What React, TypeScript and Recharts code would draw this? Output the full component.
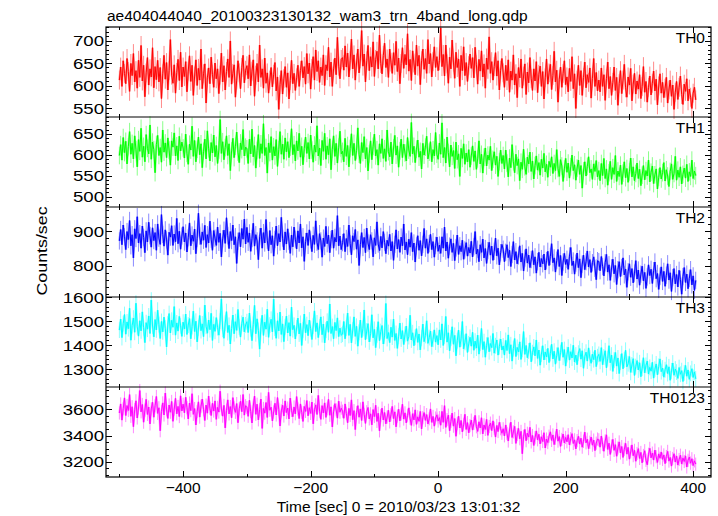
import { ErrorBar, Line, LineChart, XAxis, YAxis } from 'recharts'

// light curve bins: first bin time and bin width (sec)
const T0 = -500
const DT = 2

const TH0 = [
  612, 641, 598, 655, 627, 604, 660, 631, 587, 649, 622, 671, 608, 633, 594, 656, 618, 689, 610, 645, 575, 628, 662, 601, 637,
  619, 684, 595, 642, 613, 656, 608, 640, 571, 626, 667, 614, 651, 590, 633, 702, 623, 605, 646, 583, 629, 658, 611, 674, 597,
  641, 620, 653, 586, 632, 666, 609, 645, 578, 621, 657, 600, 638, 612, 681, 593, 626, 648, 561, 617, 639, 604, 663, 625, 596,
  650, 615, 637, 582, 623, 672, 608, 644, 590, 631, 659, 618, 699, 603, 627, 646, 574, 612, 655, 628, 593, 640, 667, 606, 634,
  644, 615, 668, 599, 632, 657, 576, 623, 649, 608, 690, 618, 637, 594, 661, 605, 628, 583, 612, 640, 597, 625, 651, 588, 619,
  547, 602, 633, 581, 615, 642, 596, 628, 570, 611, 656, 604, 627, 589, 617, 645, 598, 633, 655, 617, 642, 603, 671, 626, 650,
  592, 638, 664, 612, 679, 631, 655, 607, 641, 622, 668, 600, 646, 633, 685, 619, 652, 598, 637, 661, 624, 707, 643, 615, 658,
  662, 634, 688, 641, 672, 619, 655, 703, 637, 668, 612, 650, 681, 628, 659, 722, 643, 670, 608, 655, 689, 633, 664, 641, 697,
  620, 658, 676, 637, 712, 649, 626, 667, 694, 640, 659, 618, 681, 652, 627, 673, 645, 698, 631, 661, 604, 649, 684, 638, 669,
  646, 715, 632, 658, 611, 677, 650, 624, 690, 643, 667, 602, 655, 681, 636, 660, 627, 702, 648, 671, 619, 653, 686, 640, 664,
  633,
  655, 728, 642, 669, 621, 690, 648, 605, 663, 637, 701, 652, 616, 674, 640, 659, 598, 667, 633, 686, 622, 651, 609, 644, 670,
  638, 662, 617, 685, 646, 603, 658, 632, 677, 619, 648, 594, 661, 636, 708, 627, 653, 612, 642, 673, 621, 655, 590, 634, 660,
  628, 596, 645, 611, 657, 585, 632, 612, 668, 601, 626, 573, 640, 617, 659, 594, 621, 648, 580, 630, 606, 662, 615, 589, 637,
  610, 653, 584, 625, 643, 598, 631, 570, 617, 659, 603, 628, 647, 591, 622, 676, 608, 634, 563, 614, 641, 596, 627, 655, 602,
  619, 586, 638, 609, 664, 593, 626, 549, 612, 645, 600, 633, 578, 618, 652, 595, 624, 607, 639, 572, 616, 660, 598, 629, 588,
  612, 586, 639, 598, 624, 567, 615, 652, 593, 620, 578, 607, 641, 589, 618, 556, 604, 633, 582, 612, 647, 595, 574, 619, 601,
  638, 566, 603, 627, 581, 610, 592, 624, 571, 598, 642, 585, 609, 563, 596, 621, 579, 605, 632, 588, 614, 557, 599, 626, 583,
  607, 573, 594, 618, 561, 590, 612, 576, 601, 547, 585, 609, 569, 596, 621, 580, 558, 603, 587, 615, 566, 592, 574, 549, 583,
  596, 568,
]

const TH1 = [
  598, 624, 587, 641, 605, 632, 578, 619, 655, 601, 627, 590, 645, 612, 571, 636, 608, 663, 594, 620, 583, 648, 615, 602, 671,
  589, 630, 612, 557, 624, 646, 598, 617, 582, 659, 606, 628, 593, 640, 611, 575, 633, 618, 652, 597, 621, 586, 644, 609, 630,
  616, 592, 649, 603, 577, 625, 611, 668, 596, 634, 583, 613, 642, 600, 626, 569, 608, 637, 590, 657, 614, 585, 629, 604, 647,
  595, 622, 579, 611, 684, 603, 631, 588, 617, 645, 598, 626, 562, 609, 639, 593, 620, 654, 606, 581, 628, 612, 660, 597, 618,
  614, 579, 637, 602, 661, 595, 622, 568, 610, 648, 591, 626, 603, 674, 598, 617, 556, 628, 605, 643, 587, 619, 597, 636, 572,
  612, 655, 601, 625, 589, 640, 607, 631, 593, 618, 662, 600, 624, 585, 633, 609, 651, 594, 620, 576, 615, 642, 603, 629, 590,
  647, 611, 582, 623, 606, 669, 597, 616, 574, 634, 608, 651, 589, 621, 600, 638, 564, 613, 645, 596, 627, 580, 618, 656, 602,
  608, 583, 639, 596, 622, 571, 615, 650, 598, 627, 586, 610, 664, 601, 579, 629, 605, 643, 590, 617, 561, 602, 633, 588, 620,
  649, 597, 612, 575, 626, 603, 638, 591, 614, 584, 659, 607, 595, 630, 578, 616, 646, 599, 621, 570, 609, 637, 593, 625, 604,
  585, 641, 611, 596, 677, 602, 620, 581, 613, 635, 594, 608, 566, 627, 599, 618, 644, 590, 606, 631, 583, 612, 597, 653, 601,
  589,
  628, 601, 676, 593, 617, 580, 642, 605, 571, 623, 596, 610, 567, 630, 588, 602, 548, 615, 591, 626, 577, 604, 583, 612, 570,
  597, 621, 584, 609, 565, 590, 633, 578, 601, 556, 594, 616, 573, 599, 587, 620, 562, 589, 607, 575, 596, 548, 583, 611, 579,
  598, 566, 611, 580, 547, 592, 569, 624, 583, 557, 601, 574, 590, 538, 582, 565, 613, 571, 553, 594, 578, 606, 560, 585, 542,
  574, 597, 563, 581, 551, 589, 568, 603, 559, 577, 546, 584, 570, 595, 555, 579, 562, 612, 567, 548, 588, 573, 536, 566, 591,
  558, 580, 544, 571, 599, 562, 576, 539, 568, 587, 553, 574, 520, 561, 583, 549, 572, 595, 557, 566, 541, 578, 560, 586, 547,
  562, 538, 579, 550, 591, 543, 566, 527, 557, 584, 541, 569, 553, 598, 536, 561, 548, 575, 529, 556, 583, 545, 567, 534, 559,
  592, 547, 571, 538, 555, 580, 543, 565, 526, 551, 574, 540, 562, 549, 587, 535, 558, 573, 531, 552, 566, 518, 546, 569, 542,
  557, 581, 537, 564, 549, 524, 560, 578, 541, 555, 596, 539, 563, 546, 571, 530, 553, 568, 544, 577, 536, 559, 548, 587, 543,
  561, 550,
]

const TH2 = [
  872, 905, 861, 918, 884, 847, 899, 876, 931, 858, 890, 823, 907, 879, 942, 866, 893, 851, 915, 882, 838, 901, 869, 926, 887,
  854, 910, 873, 896, 845, 921, 880, 862, 948, 891, 857, 904, 875, 831, 897, 883, 916, 859, 892, 870, 937, 864, 900, 848, 886,
  913, 869, 895, 840, 881, 924, 858, 889, 871, 906, 835, 879, 952, 886, 862, 898, 874, 917, 853, 890, 866, 929, 877, 845, 902,
  880, 859, 912, 868, 894, 826, 878, 903, 865, 939, 887, 850, 899, 873, 918, 861, 884, 807, 871, 896, 855, 908, 877, 935, 863,
  911, 868, 895, 842, 879, 923, 857, 890, 872, 818, 884, 909, 851, 896, 866, 934, 874, 843, 902, 861, 887, 828, 876, 915, 858,
  893, 869, 940, 880, 846, 898, 863, 907, 871, 836, 889, 855, 912, 877, 849, 901, 866, 921, 852, 884, 813, 870, 895, 859, 904,
  875, 841, 888, 862, 930, 868, 847, 893, 872, 825, 880, 856, 914, 864, 889, 838, 876, 903, 851, 882, 869, 945, 858, 886, 847,
  867, 893, 841, 879, 856, 918, 864, 832, 887, 870, 905, 848, 875, 801, 861, 896, 853, 882, 838, 909, 866, 847, 890, 872, 826,
  881, 859, 927, 863, 844, 885, 852, 899, 868, 835, 874, 857, 891, 843, 870, 816, 862, 904, 849, 876, 839, 883, 858, 921, 846,
  869, 832, 877, 854, 896, 841, 866, 811, 858, 887, 845, 873, 829, 862, 908, 851, 878, 836, 864, 891, 847, 870, 825, 859, 883,
  842,
  860, 836, 884, 851, 912, 843, 869, 822, 857, 878, 839, 865, 815, 852, 889, 833, 858, 841, 874, 819, 846, 867, 828, 853, 837,
  871, 826, 855, 899, 834, 848, 812, 861, 839, 877, 823, 850, 807, 844, 868, 831, 857, 816, 842, 880, 829, 851, 803, 838, 862,
  848, 812, 839, 861, 824, 845, 798, 833, 870, 817, 841, 806, 829, 858, 811, 836, 785, 822, 849, 808, 831, 795, 818, 844, 803,
  826, 779, 812, 839, 797, 821, 806, 834, 788, 815, 842, 801, 827, 864, 809, 823, 782, 816, 847, 798, 830, 772, 811, 836, 804,
  819, 790, 828, 853, 801, 814, 776, 808, 837, 795, 820, 766, 805, 831, 789, 812, 843, 797, 818, 781, 809, 826, 793, 760, 815,
  812, 786, 827, 798, 771, 809, 833, 782, 803, 758, 794, 819, 777, 801, 746, 789, 812, 769, 795, 823, 774, 791, 738, 783, 806,
  767, 792, 751, 779, 815, 762, 788, 744, 776, 799, 757, 781, 735, 768, 803, 772, 790, 749, 786, 811, 763, 778, 732, 770, 797,
  755, 784, 741, 773, 806, 759, 780, 726, 766, 792, 748, 775, 739, 787, 761, 718, 769, 795, 752, 776, 734, 764, 789, 745, 771,
  729, 758,
]

const TH3 = [
  1462, 1508, 1431, 1489, 1527, 1445, 1496, 1468, 1553, 1420, 1481, 1512, 1453, 1574, 1476, 1437, 1501, 1459, 1538, 1472, 1410, 1493, 1466, 1521, 1448,
  1587, 1479, 1434, 1506, 1463, 1545, 1485, 1427, 1498, 1455, 1516, 1470, 1392, 1487, 1531, 1450, 1503, 1474, 1560, 1441, 1492, 1458, 1519, 1480, 1436,
  1495, 1467, 1529, 1444, 1483, 1510, 1426, 1477, 1541, 1456, 1499, 1413, 1471, 1523, 1460, 1488, 1435, 1566, 1478, 1449, 1504, 1464, 1532, 1419, 1486,
  1457, 1514, 1473, 1441, 1500, 1592, 1466, 1428, 1491, 1539, 1452, 1482, 1404, 1469, 1525, 1447, 1497, 1461, 1548, 1475, 1433, 1490, 1516, 1455, 1484,
  1497, 1452, 1533, 1468, 1418, 1486, 1565, 1447, 1509, 1461, 1383, 1478, 1524, 1440, 1495, 1466, 1549, 1432, 1483, 1507, 1455, 1591, 1470, 1428, 1501,
  1459, 1537, 1444, 1488, 1414, 1476, 1520, 1450, 1493, 1437, 1558, 1464, 1482, 1425, 1471, 1512, 1446, 1490, 1398, 1463, 1529, 1451, 1485, 1439, 1504,
  1468, 1423, 1479, 1542, 1456, 1492, 1431, 1475, 1517, 1443, 1487, 1409, 1462, 1499, 1453, 1571, 1448, 1477, 1426, 1494, 1460, 1513, 1435, 1470, 1441,
  1445, 1498, 1426, 1471, 1533, 1440, 1486, 1409, 1462, 1517, 1436, 1478, 1395, 1453, 1504, 1431, 1469, 1546, 1422, 1458, 1489, 1413, 1447, 1526, 1430,
  1465, 1389, 1442, 1497, 1418, 1456, 1481, 1404, 1438, 1573, 1427, 1452, 1410, 1474, 1433, 1508, 1419, 1448, 1386, 1437, 1491, 1425, 1460, 1402, 1444,
  1479, 1416, 1435, 1524, 1421, 1451, 1397, 1432, 1468, 1411, 1446, 1380, 1429, 1487, 1414, 1440, 1501, 1407, 1431, 1458, 1393, 1424, 1463, 1412, 1439,
  1401,
  1463, 1421, 1488, 1398, 1437, 1519, 1412, 1451, 1376, 1429, 1476, 1403, 1440, 1355, 1418, 1462, 1391, 1426, 1498, 1384, 1411, 1447, 1369, 1405, 1432,
  1395, 1453, 1378, 1416, 1387, 1441, 1362, 1408, 1469, 1381, 1414, 1349, 1399, 1431, 1372, 1406, 1389, 1448, 1366, 1397, 1421, 1358, 1393, 1425, 1379,
  1396, 1358, 1419, 1377, 1442, 1364, 1401, 1333, 1385, 1427, 1352, 1390, 1371, 1413, 1340, 1382, 1456, 1361, 1398, 1347, 1375, 1409, 1330, 1368, 1392,
  1355, 1421, 1344, 1379, 1316, 1362, 1397, 1338, 1371, 1350, 1386, 1327, 1365, 1403, 1342, 1374, 1320, 1357, 1389, 1335, 1368, 1411, 1349, 1381, 1312,
  1360, 1391, 1337, 1372, 1346, 1399, 1329, 1358, 1318, 1366, 1385, 1341, 1376, 1303, 1352, 1370, 1333, 1388, 1345, 1324, 1362, 1339, 1378, 1310, 1351,
  1361, 1332, 1389, 1318, 1350, 1376, 1305, 1343, 1397, 1326, 1358, 1290, 1337, 1369, 1312, 1346, 1281, 1329, 1364, 1301, 1338, 1378, 1309, 1322, 1352,
  1286, 1317, 1343, 1273, 1310, 1335, 1296, 1326, 1268, 1303, 1347, 1284, 1315, 1333, 1279, 1307, 1291, 1328, 1262, 1299, 1321, 1276, 1311, 1342, 1289,
  1304, 1266, 1297, 1318, 1281, 1309, 1253, 1292, 1325, 1274, 1300, 1287, 1261, 1306, 1278, 1293, 1248, 1284, 1315, 1270, 1296, 1257, 1282, 1301, 1265,
  1288, 1259,
]

const TH0123 = [
  3572, 3641, 3518, 3605, 3687, 3553, 3629, 3591, 3712, 3547, 3620, 3468, 3598, 3665, 3534, 3610, 3743, 3581, 3637, 3502, 3594, 3676, 3561, 3618, 3489,
  3603, 3654, 3540, 3627, 3698, 3569, 3612, 3437, 3585, 3649, 3557, 3724, 3596, 3531, 3633, 3578, 3660, 3509, 3601, 3684, 3566, 3622, 3545, 3703, 3588,
  3639, 3574, 3692, 3613, 3527, 3648, 3590, 3719, 3562, 3606, 3481, 3583, 3657, 3541, 3624, 3678, 3597, 3515, 3632, 3571, 3701, 3608, 3553, 3646, 3587,
  3664, 3524, 3615, 3579, 3738, 3602, 3548, 3630, 3459, 3593, 3672, 3565, 3621, 3536, 3689, 3611, 3577, 3644, 3498, 3604, 3661, 3582, 3713, 3556, 3628,
  3614, 3547, 3669, 3583, 3496, 3625, 3701, 3562, 3639, 3520, 3598, 3678, 3455, 3607, 3571, 3652, 3538, 3729, 3593, 3616, 3512, 3580, 3646, 3557, 3690,
  3601, 3473, 3588, 3631, 3549, 3664, 3575, 3610, 3527, 3685, 3592, 3544, 3618, 3566, 3697, 3603, 3530, 3641, 3577, 3508, 3622, 3584, 3667, 3551, 3612,
  3569, 3655, 3490, 3597, 3634, 3561, 3706, 3586, 3524, 3628, 3573, 3649, 3539, 3604, 3676, 3555, 3619, 3466, 3581, 3643, 3596, 3533, 3662, 3578, 3609,
  3586, 3532, 3641, 3569, 3498, 3607, 3553, 3672, 3521, 3590, 3446, 3574, 3628, 3540, 3603, 3515, 3657, 3561, 3493, 3582, 3614, 3527, 3566, 3482, 3598,
  3545, 3631, 3508, 3570, 3436, 3552, 3609, 3519, 3576, 3490, 3541, 3593, 3504, 3559, 3622, 3530, 3581, 3467, 3548, 3601, 3512, 3564, 3639, 3526, 3573,
  3497, 3554, 3611, 3532, 3478, 3567, 3520, 3596, 3486, 3543, 3509, 3584, 3451, 3537, 3575, 3516, 3560, 3489, 3528, 3603, 3501, 3546, 3472, 3534, 3558,
  3511,
  3537, 3479, 3584, 3501, 3628, 3463, 3522, 3556, 3437, 3508, 3571, 3472, 3530, 3395, 3491, 3548, 3458, 3515, 3429, 3486, 3562, 3447, 3499, 3421, 3476,
  3518, 3442, 3493, 3554, 3467, 3432, 3505, 3459, 3536, 3413, 3481, 3447, 3523, 3402, 3470, 3495, 3438, 3512, 3456, 3389, 3477, 3431, 3501, 3452, 3418,
  3452, 3398, 3481, 3417, 3359, 3443, 3502, 3386, 3428, 3470, 3341, 3409, 3455, 3376, 3432, 3262, 3395, 3447, 3361, 3418, 3389, 3463, 3352, 3401, 3325,
  3384, 3436, 3368, 3410, 3337, 3391, 3355, 3422, 3306, 3374, 3347, 3396, 3429, 3363, 3405, 3332, 3381, 3449, 3358, 3393, 3318, 3371, 3412, 3344, 3386,
  3353, 3407, 3329, 3377, 3415, 3340, 3368, 3299, 3362, 3395, 3336, 3380, 3312, 3357, 3426, 3345, 3373, 3301, 3350, 3389, 3327, 3366, 3286, 3343, 3374,
  3368, 3312, 3397, 3334, 3281, 3359, 3406, 3295, 3342, 3257, 3320, 3371, 3288, 3331, 3243, 3305, 3352, 3268, 3317, 3234, 3296, 3341, 3259, 3310, 3221,
  3276, 3329, 3247, 3288, 3205, 3264, 3301, 3226, 3272, 3193, 3249, 3285, 3212, 3178, 3258, 3303, 3231, 3267, 3214, 3290, 3239, 3196, 3261, 3228, 3275,
  3219, 3253, 3187, 3241, 3280, 3206, 3234, 3168, 3226, 3262, 3199, 3245, 3176, 3218, 3251, 3184, 3229, 3203, 3246, 3161, 3212, 3237, 3190, 3224, 3172,
  3208, 3183,
]

// typical 1-sigma error bar of each band (counts/sec)
const ERRORS = [21, 21, 25, 33, 50]

const X_DOMAIN = [-521, 428]
const X_TICKS = [-500, -400, -300, -200, -100, 0, 100, 200, 300, 400]
const X_LABELS = [-400, -200, 0, 200, 400]

const TITLE = 'ae404044040_20100323130132_wam3_trn_4band_long.qdp'
const X_TITLE = 'Time [sec] 0 = 2010/03/23 13:01:32'
const Y_TITLE = 'Counts/sec'

const rows = TH0.map((v, i) => ({
  t: T0 + i * DT,
  TH0: v,
  TH1: TH1[i],
  TH2: TH2[i],
  TH3: TH3[i],
  TH0123: TH0123[i],
  errTH0: ERRORS[0],
  errTH1: ERRORS[1],
  errTH2: ERRORS[2],
  errTH3: ERRORS[3],
  errTH0123: ERRORS[4],
}))

const panels = [
  { key: 'TH0', domain: [530, 730], majors: [550, 600, 650, 700], minor: 10, color: '#ff0000', light: '#ff8a8a' },
  { key: 'TH1', domain: [475, 690], majors: [500, 550, 600, 650], minor: 10, color: '#00ff00', light: '#8aff8a' },
  { key: 'TH2', domain: [710, 970], majors: [800, 900], minor: 20, color: '#0000ff', light: '#8a8aff' },
  { key: 'TH3', domain: [1225, 1600], majors: [1300, 1400, 1500, 1600], minor: 20, color: '#00ffff', light: '#8affff' },
  { key: 'TH0123', domain: [3085, 3770], majors: [3200, 3400, 3600], minor: 50, color: '#ff00ff', light: '#ff8aff' },
]

const FONT = '"Liberation Sans", Arial, Helvetica, sans-serif'
const PL = 106
const PR = 711
const TOP0 = 27
const PH = 90
const M_TOP = 10

const fmt = (v: number) => (v < 0 ? `\u2212${-v}` : `${v}`)
const crisp = (v: number) => Math.round(v) + 0.5

function range(lo: number, hi: number, step: number) {
  const out: number[] = []
  for (let v = Math.ceil(lo / step) * step; v <= hi; v += step) out.push(v)
  return out
}

const yTick = (p: (typeof panels)[number]) => (props: any) => {
  const { y, payload } = props
  const v = payload.value
  const major = p.majors.includes(v)
  const len = major ? 6 : 3
  const yy = crisp(y)
  return (
    <g>
      <path d={`M${PL},${yy}h${len}M${PR - len},${yy}h${len}`} stroke="#000" strokeWidth={1} fill="none" />
      {major && (
        <text
          transform={`translate(${PL - 2},${y + 5.5}) scale(1.2,1)`}
          textAnchor="end"
          fontSize={15.5}
          fontFamily={FONT}
          fill="#000"
        >
          {fmt(v)}
        </text>
      )}
    </g>
  )
}

const xTick = (bottom: boolean) => (props: any) => {
  const { x, payload } = props
  const v = payload.value
  const major = X_LABELS.includes(v)
  const len = major ? 6 : 3
  const xx = crisp(x)
  return (
    <g>
      <path d={`M${xx},${M_TOP}v${len}M${xx},${M_TOP + PH - len}v${len}`} stroke="#000" strokeWidth={1} fill="none" />
      {bottom && major && (
        <text x={x} y={M_TOP + PH + 16} textAnchor="middle" fontSize={15.5} fontFamily={FONT} fill="#000">
          {fmt(v)}
        </text>
      )}
    </g>
  )
}

export default function App() {
  return (
    <div style={{ position: 'absolute', left: 0, top: 0, width: 718, height: 516, background: '#fff' }}>
      {panels.map((p, i) => {
        const last = i === panels.length - 1
        return (
          <div key={p.key} style={{ position: 'absolute', left: 0, top: TOP0 + i * PH - M_TOP }}>
            <LineChart
              width={718}
              height={last ? 130 : 110}
              data={rows}
              margin={{ top: M_TOP, right: 718 - PR, bottom: 0, left: PL - 50 }}
            >
              <XAxis
                dataKey="t"
                type="number"
                domain={X_DOMAIN}
                ticks={X_TICKS}
                interval={0}
                tick={xTick(last)}
                tickLine={false}
                axisLine={false}
                height={last ? 30 : 10}
              />
              <YAxis
                type="number"
                domain={p.domain}
                ticks={range(p.domain[0], p.domain[1], p.minor)}
                interval={0}
                tick={yTick(p)}
                tickLine={false}
                axisLine={false}
                width={50}
                allowDataOverflow
              />
              <Line
                key="err"
                dataKey={p.key}
                stroke={p.light}
                strokeWidth={2}
                dot={false}
                isAnimationActive={false}
              >
                <ErrorBar dataKey={`err${p.key}`} width={0} stroke={p.light} strokeWidth={1} direction="y" />
              </Line>
              <Line
                key="val"
                dataKey={p.key}
                stroke={p.color}
                strokeWidth={1}
                dot={false}
                isAnimationActive={false}
              />
            </LineChart>
          </div>
        )
      })}
      <svg
        width={718}
        height={516}
        style={{ position: 'absolute', left: 0, top: 0, pointerEvents: 'none' }}
        fontFamily={FONT}
      >
        <rect x={PL} y={TOP0} width={PR - PL} height={PH * panels.length} fill="none" stroke="#000" strokeWidth={1.2} />
        {panels.slice(1).map((p, i) => (
          <line key={p.key} x1={PL} x2={PR} y1={TOP0 + (i + 1) * PH} y2={TOP0 + (i + 1) * PH} stroke="#000" strokeWidth={1.2} />
        ))}
        {panels.map((p, i) => (
          <text key={p.key} x={705} y={TOP0 + i * PH + 16} textAnchor="end" fontSize={15.5} fill="#000">
            {p.key}
          </text>
        ))}
        <text x={107} y={20.5} fontSize={15.5} fill="#000">
          {TITLE}
        </text>
        <text x={398.5} y={512} textAnchor="middle" fontSize={15.5} fill="#000">
          {X_TITLE}
        </text>
        <text transform="translate(47,251) rotate(-90) scale(1.15,1)" textAnchor="middle" fontSize={15.5} fill="#000">
          {Y_TITLE}
        </text>
      </svg>
    </div>
  )
}
